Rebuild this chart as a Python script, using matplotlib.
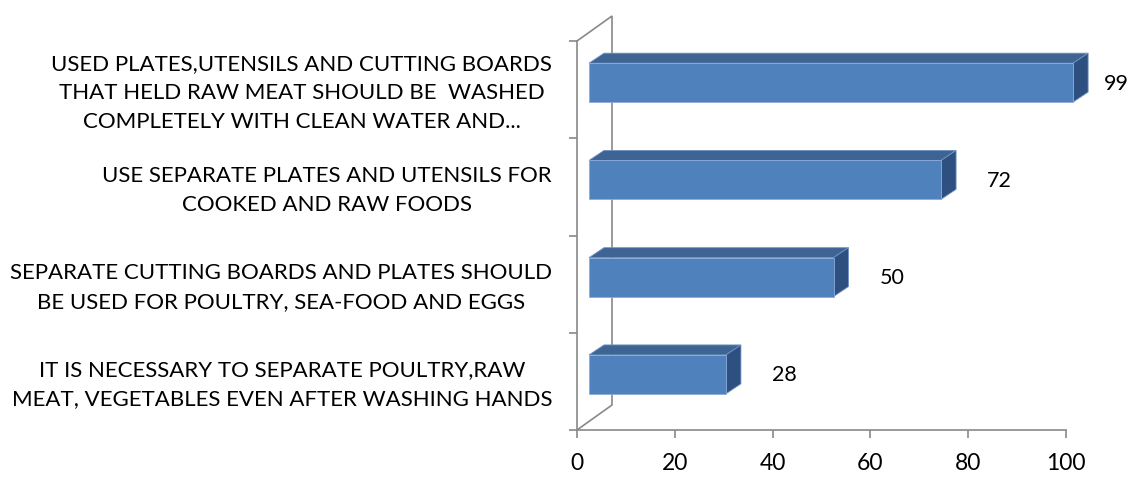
import matplotlib
matplotlib.use("Agg")
import matplotlib.pyplot as plt
from matplotlib.patches import Polygon
from matplotlib.transforms import ScaledTranslation

categories = [
    "USED PLATES,UTENSILS AND CUTTING BOARDS\nTHAT HELD RAW MEAT SHOULD BE  WASHED\nCOMPLETELY WITH CLEAN WATER AND...",
    "USE SEPARATE PLATES AND UTENSILS FOR\nCOOKED AND RAW FOODS",
    "SEPARATE CUTTING BOARDS AND PLATES SHOULD\nBE USED FOR POULTRY, SEA-FOOD AND EGGS",
    "IT IS NECESSARY TO SEPARATE POULTRY,RAW\nMEAT, VEGETABLES EVEN AFTER WASHING HANDS",
]
values = [99, 72, 50, 28]
xticks = [0, 20, 40, 60, 80, 100]

FRONT = "#4F81BD"
TOP = "#3D6492"
SIDE = "#2E5080"
AXC = "#898989"
FONT = ["Lato", "DejaVu Sans"]

W, H, DPI = 1135, 481, 100
fig = plt.figure(figsize=(W / DPI, H / DPI), dpi=DPI)
fig.patch.set_facecolor("white")

ax_l, ax_r, ax_b, ax_t = 577, 1066, 431, 42
ax = fig.add_axes([ax_l / W, (H - ax_b) / H, (ax_r - ax_l) / W, (ax_b - ax_t) / H])
ax.set_xlim(0, 100)
n = len(categories)
ax.set_ylim(0, n)
ax.patch.set_alpha(0)

px_per_x = (ax_r - ax_l) / 100.0
px_per_y = (ax_b - ax_t) / n

# bar plane offset (bars sit a bit into depth)
bar_tr = ax.transData + ScaledTranslation(12 / DPI, 7 / DPI, fig.dpi_scale_trans)
ys = [n - 0.5 - i for i in range(n)]
bh = 0.40
ddx = 15 / px_per_x
ddy = 10 / px_per_y

for y, v in zip(ys, values):
    yt = y + bh / 2
    yb = y - bh / 2
    # top face
    ax.add_patch(Polygon([(0, yt), (v, yt), (v + ddx, yt + ddy), (ddx, yt + ddy)],
                         closed=True, facecolor=TOP, edgecolor="#6F93C3", lw=0.6,
                         transform=bar_tr, clip_on=False, zorder=3))
    # side face
    ax.add_patch(Polygon([(v, yb), (v + ddx, yb + ddy), (v + ddx, yt + ddy), (v, yt)],
                         closed=True, facecolor=SIDE, edgecolor="#6F93C3", lw=0.6,
                         transform=bar_tr, clip_on=False, zorder=3))
ax.barh(ys, values, height=bh, left=0, color=FRONT, edgecolor="#8EAADB",
        linewidth=0.6, transform=bar_tr, zorder=4, clip_on=False)

for y, v in zip(ys, values):
    ax.text(min(v + 12, 107.8), y, str(v), transform=bar_tr, ha="center", va="center",
            fontsize=15.5, family=FONT, color="black")

# back wall lines
wdx = 35 / px_per_x
wdy = 25 / px_per_y
ax.plot([0, wdx, wdx, 0], [n, n + wdy, wdy, 0], color=AXC, lw=1.2,
        clip_on=False, zorder=2, solid_joinstyle="miter")

for s in ["top", "right"]:
    ax.spines[s].set_visible(False)
for s in ["left", "bottom"]:
    ax.spines[s].set_color(AXC)
    ax.spines[s].set_linewidth(1.2)

ax.set_xticks(xticks)
ax.set_xticklabels([str(t) for t in xticks], family=FONT, fontsize=16.5)
ax.set_yticks(range(n + 1))
ax.set_yticklabels([])
label_shift = 4 / px_per_y
ax.set_yticks([y + label_shift for y in ys], minor=True)
ax.set_yticklabels(categories, minor=True, family=FONT, fontsize=16,
                   ha="right", multialignment="center", linespacing=1.55)
ax.tick_params(axis="y", which="major", length=6, width=1.2, color=AXC, direction="out")
ax.tick_params(axis="y", which="minor", length=0, pad=18)
ax.tick_params(axis="x", length=6, width=1.2, color=AXC, direction="out", pad=10)

fig.savefig("out.png", dpi=DPI, facecolor="white")
